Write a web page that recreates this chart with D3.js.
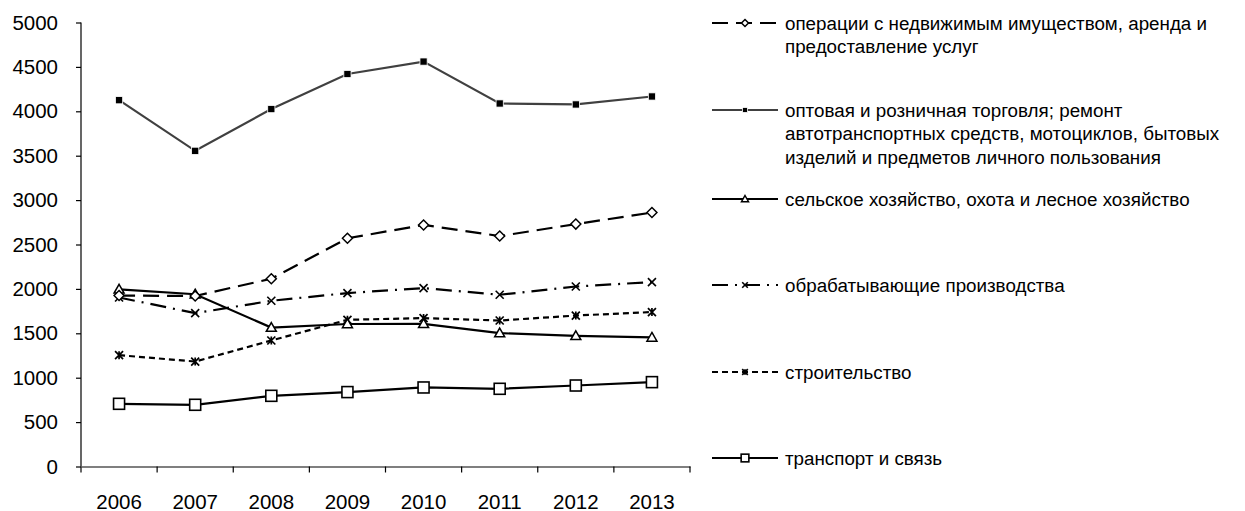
<!DOCTYPE html>
<html>
<head>
<meta charset="utf-8">
<script src="https://cdn.jsdelivr.net/npm/d3@7"></script>
<style>
  body { margin: 0; background: #fff; }
  text { font-family: "Liberation Sans", Arial, sans-serif; fill: #000; }
</style>
</head>
<body>
<script>
const w = 1245;
const h = 511;

// data
const years = ["2006", "2007", "2008", "2009", "2010", "2011", "2012", "2013"];
const yTicks = [0, 500, 1000, 1500, 2000, 2500, 3000, 3500, 4000, 4500, 5000];

const realEstate = [1925, 1920, 2115, 2570, 2720, 2595, 2730, 2860];
const trade = [4125, 3555, 4025, 4420, 4560, 4088, 4077, 4167];
const agriculture = [1995, 1940, 1565, 1605, 1607, 1502, 1472, 1453];
const manufacturing = [1903, 1727, 1866, 1953, 2009, 1934, 2027, 2077];
const construction = [1254, 1182, 1419, 1652, 1671, 1644, 1700, 1739];
const transport = [706, 695, 796, 838, 890, 875, 912, 950];

const seriesNames = [
  ["операции с недвижимым имуществом, аренда и", "предоставление услуг"],
  ["оптовая и розничная торговля; ремонт", "автотранспортных средств, мотоциклов, бытовых", "изделий и предметов личного пользования"],
  ["сельское хозяйство, охота и лесное хозяйство"],
  ["обрабатывающие производства"],
  ["строительство"],
  ["транспорт и связь"]
];

const series = [
  { name: seriesNames[0], values: realEstate, color: "#000", dash: "16,8", marker: "diamond" },
  { name: seriesNames[1], values: trade, color: "#404040", dash: null, marker: "filledSquare" },
  { name: seriesNames[2], values: agriculture, color: "#000", dash: null, marker: "triangle" },
  { name: seriesNames[3], values: manufacturing, color: "#000", dash: "16,7,2,7", marker: "cross" },
  { name: seriesNames[4], values: construction, color: "#000", dash: "6,4", marker: "star" },
  { name: seriesNames[5], values: transport, color: "#000", dash: null, marker: "openSquare" }
];

const svg = d3.select("body").append("svg")
  .attr("width", w)
  .attr("height", h);

const x = d3.scaleBand()
  .domain(years)
  .range([81, 690]);

const y = d3.scaleLinear()
  .domain([0, 5000])
  .range([466.5, 22.5]);

// axes
const xAxis = d3.axisBottom(x).tickSize(0).tickFormat(d => d);
const xg = svg.append("g")
  .attr("transform", `translate(0,${y(0)})`)
  .call(xAxis);
xg.select(".domain").attr("stroke", "#000").attr("stroke-width", 1.2);
xg.selectAll(".tick text")
  .attr("font-size", 20.5)
  .attr("font-family", "Liberation Sans, Arial, sans-serif")
  .attr("dy", 0)
  .attr("y", 42);

// x tick marks on band edges
svg.append("g").selectAll("line")
  .data(years.concat(["end"]))
  .enter().append("line")
  .attr("x1", (d, i) => i < years.length ? x(d) : x.range()[1])
  .attr("x2", (d, i) => i < years.length ? x(d) : x.range()[1])
  .attr("y1", y(0))
  .attr("y2", y(0) + 6)
  .attr("stroke", "#000")
  .attr("stroke-width", 1.2);

const yAxis = d3.axisLeft(y).tickValues(yTicks).tickFormat(d3.format("d")).tickSize(5).tickPadding(18);
const yg = svg.append("g")
  .attr("transform", `translate(81,0)`)
  .call(yAxis);
yg.select(".domain").attr("stroke", "#000").attr("stroke-width", 1.2).attr("d", `M0,${y(0)}V${y(5000)}`);
yg.selectAll(".tick line").attr("stroke", "#000").attr("stroke-width", 1.2);
yg.selectAll(".tick text").attr("font-size", 20.5).attr("font-family", "Liberation Sans, Arial, sans-serif");

// marker drawing
function drawMarker(g, type, cx, cy, s, color) {
  const r = s / 2;
  if (type === "diamond") {
    g.append("path")
      .attr("d", `M${cx},${cy - r}L${cx + r},${cy}L${cx},${cy + r}L${cx - r},${cy}Z`)
      .attr("fill", "#fff").attr("stroke", color).attr("stroke-width", 1.5);
  } else if (type === "filledSquare") {
    g.append("rect")
      .attr("x", cx - r * 0.8).attr("y", cy - r * 0.8)
      .attr("width", r * 1.6).attr("height", r * 1.6)
      .attr("fill", "#000").attr("stroke", "#fff").attr("stroke-width", 0.8);
  } else if (type === "triangle") {
    g.append("path")
      .attr("d", `M${cx},${cy - r}L${cx + r},${cy + r * 0.75}L${cx - r},${cy + r * 0.75}Z`)
      .attr("fill", "#fff").attr("stroke", color).attr("stroke-width", 1.5);
  } else if (type === "cross") {
    const q = r * 0.8;
    g.append("path")
      .attr("d", `M${cx - q},${cy - q}L${cx + q},${cy + q}M${cx - q},${cy + q}L${cx + q},${cy - q}`)
      .attr("stroke", color).attr("stroke-width", 1.6).attr("fill", "none");
  } else if (type === "star") {
    const q = r * 0.8;
    g.append("path")
      .attr("d", `M${cx - q},${cy - q}L${cx + q},${cy + q}M${cx - q},${cy + q}L${cx + q},${cy - q}M${cx},${cy - q}L${cx},${cy + q}`)
      .attr("stroke", color).attr("stroke-width", 1.7).attr("fill", "none");
  } else if (type === "openSquare") {
    g.append("rect")
      .attr("x", cx - r).attr("y", cy - r)
      .attr("width", s).attr("height", s)
      .attr("fill", "#fff").attr("stroke", color).attr("stroke-width", 1.6);
  }
}

const markerSize = {
  diamond: 10, filledSquare: 9, triangle: 10, cross: 10, star: 10, openSquare: 11
};

const line = d3.line()
  .x((d, i) => x(years[i]) + x.bandwidth() / 2)
  .y(d => y(d));

// draw series in reverse legend order so the top ones sit above
series.slice().reverse().forEach(s => {
  const g = svg.append("g");
  g.append("path")
    .datum(s.values)
    .attr("d", line)
    .attr("fill", "none")
    .attr("stroke", s.color)
    .attr("stroke-width", 2.2)
    .attr("stroke-dasharray", s.dash);
  s.values.forEach((v, i) => {
    drawMarker(g, s.marker, x(years[i]) + x.bandwidth() / 2, y(v), markerSize[s.marker], s.color);
  });
});

// legend
const legendY = [23, 110, 199, 285, 372, 458];
const legend = svg.append("g");
series.forEach((s, i) => {
  const ly = legendY[i];
  const g = legend.append("g");
  g.append("line")
    .attr("x1", 712).attr("x2", 778)
    .attr("y1", ly).attr("y2", ly)
    .attr("stroke", s.color)
    .attr("stroke-width", 2)
    .attr("stroke-dasharray", s.dash ? s.dash : null);
  drawMarker(g, s.marker, 745, ly, markerSize[s.marker] * 0.7, s.color);
  s.name.forEach((t, j) => {
    g.append("text")
      .attr("x", 785)
      .attr("y", ly + j * 23.5)
      .attr("dy", "0.35em")
      .attr("font-size", 18.8)
      .text(t);
  });
});
</script>
</body>
</html>
